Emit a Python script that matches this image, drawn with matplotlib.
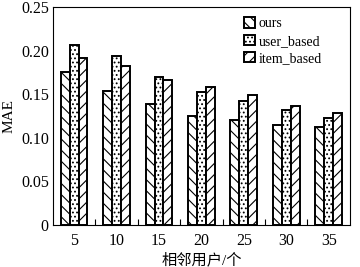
import matplotlib.pyplot as plt
import numpy as np

plt.rcParams['font.family'] = ['Liberation Serif', 'Noto Sans CJK SC']
plt.rcParams['hatch.linewidth'] = 0.8

neighbors = ["5", "10", "15", "20", "25", "30", "35"]
ours = [0.175, 0.154, 0.139, 0.125, 0.121, 0.115, 0.112]
user_based = [0.206, 0.194, 0.170, 0.153, 0.142, 0.132, 0.123]
item_based = [0.191, 0.182, 0.166, 0.158, 0.149, 0.136, 0.128]

fig = plt.figure(figsize=(3.6, 2.67), dpi=100)
ax = fig.add_axes([0.147, 0.157, 0.825, 0.817])

x = np.arange(len(neighbors))
w = 0.21
ax.bar(x - w, ours, w, color="white", edgecolor="black", linewidth=1.4,
       hatch="\\\\\\", label="ours")
ax.bar(x, user_based, w, color="white", edgecolor="black", linewidth=1.4,
       hatch="....", label="user_based")
ax.bar(x + w, item_based, w, color="white", edgecolor="black", linewidth=1.4,
       hatch="///", label="item_based")

ax.set_xlim(-0.5, 6.5)
ax.set_ylim(0, 0.25)
ax.set_xticks(x)
ax.set_xticklabels(neighbors)
ax.set_xticks(x[:-1] + 0.5, minor=True)
ax.set_yticks([0, 0.05, 0.10, 0.15, 0.20, 0.25])
ax.set_yticklabels(["0", "0.05", "0.10", "0.15", "0.20", "0.25"])
ax.tick_params(axis="x", which="major", length=0, labelsize=11.5, pad=6)
ax.tick_params(axis="x", which="minor", direction="in", length=4, width=0.8)
ax.tick_params(axis="y", direction="in", length=0, labelsize=11.5, pad=3)
for s in ax.spines.values():
    s.set_linewidth(0.8)

ax.set_xlabel("相邻用户/个", fontsize=11, labelpad=2)
ax.set_ylabel("MAE", fontsize=11, labelpad=4)
ax.legend(loc="upper left", bbox_to_anchor=(0.60, 1.01), frameon=False,
          fontsize=10, handlelength=0.8, handleheight=0.8,
          handletextpad=0.3, labelspacing=0.3)

fig.savefig("out.png")
